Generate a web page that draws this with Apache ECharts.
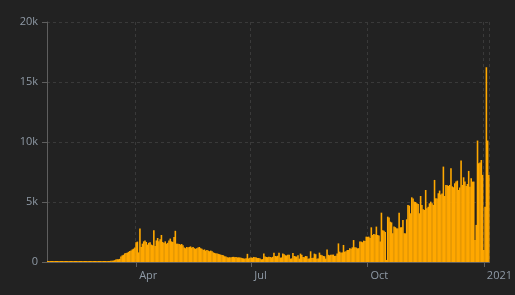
<!DOCTYPE html>
<html>
<head>
<meta charset="utf-8">
<script src="https://cdn.jsdelivr.net/npm/echarts@6/dist/echarts.min.js"></script>
<style>
html,body{margin:0;padding:0;background:#222222;}
#chart{width:515px;height:295px;}
</style>
</head>
<body>
<div id="chart"></div>
<script>
// Daily values, one array per month (2020-01-22 .. 2021-01-05)
var jan2020 = [0,0,0,1,0,0,1,0,0,1];
var feb2020 = [0,0,0,0,1,0,0,0,0,0,1,0,0,0,0,0,0,0,1,0,1,0,0,0,1,2,1,3,3];
var mar2020 = [3,4,8,6,10,12,9,15,20,25,30,100,110,120,150,200,220,230,260,450,550,600,720,750,780,850,920,950,1050,1110,1200];
var apr2020 = [1650,1700,800,2800,1250,1530,1720,1800,1670,1450,1600,1650,1450,1400,2640,1330,1800,2000,1720,1900,2250,1670,1580,1720,1530,1600,1800,1950,1720,1670];
var may2020 = [2080,2600,1530,1530,1500,1450,1500,1400,1200,1150,1250,1200,1250,1300,1200,1250,1150,1100,1150,1200,1250,1150,1100,1000,1050,950,1000,950,900,950,900];
var jun2020 = [800,760,720,700,680,650,600,580,560,480,460,400,380,400,370,420,430,400,410,380,390,380,360,320,300,280,310,680,300,350];
var jul2020 = [370,350,420,400,380,330,330,300,220,240,700,450,420,400,430,420,380,430,780,500,480,520,780,360,380,700,650,560,540,610,600];
var aug2020 = [280,300,750,500,470,450,560,280,700,600,420,400,500,480,280,300,890,330,350,700,650,280,300,780,600,560,500,480,280,1050,600];
var sep2020 = [560,610,600,620,500,520,700,1550,860,780,800,1420,860,900,1000,1000,1140,1100,1220,1830,1220,1200,1140,1150,1700,1700,1650,1780,1750,2110];
var oct2020 = [2100,2110,2000,2890,2250,2330,2300,2950,2250,2200,1700,4110,2650,2610,2500,170,3780,3700,3360,3300,2390,2950,2900,2810,2800,4110,2890,2900,3500,2400,2390];
var nov2020 = [3560,4750,4700,4060,5390,5300,5030,5000,4900,4840,4060,5500,4750,4400,4340,6000,4480,4600,4890,5030,4890,4750,6840,5310,5300,5730,5950,5620,5700,7950];
var dec2020 = [5500,6420,6400,6340,6420,7810,6300,6230,6560,6700,6780,6000,6200,8450,6420,7060,6700,6340,6500,7590,6280,6980,6700,6700,1830,3090,10120,8230,8300,8500,7260];
var jan2021 = [1000,4610,16230,10120,7260];

var startDate = '2020-01-22';
var tickDates = ['2020-04-01','2020-07-01','2020-10-01','2021-01-01'];
var tickLabels = ['Apr','Jul','Oct','2021'];
var yTicks = [0,5000,10000,15000,20000];
var yTickLabels = ['0','5k','10k','15k','20k'];

var values = [].concat(jan2020,feb2020,mar2020,apr2020,may2020,jun2020,jul2020,aug2020,sep2020,oct2020,nov2020,dec2020,jan2021);

function pad(n){return n<10?'0'+n:''+n;}
var categories = [];
var d0 = new Date(startDate + 'T00:00:00Z');
for (var i = 0; i < values.length; i++) {
  var d = new Date(d0.getTime() + i*86400000);
  categories.push(d.getUTCFullYear()+'-'+pad(d.getUTCMonth()+1)+'-'+pad(d.getUTCDate()));
}
function isTick(idx){ return tickDates.indexOf(categories[idx]) >= 0; }

var chart = echarts.init(document.getElementById('chart'), null, {renderer:'canvas'});
chart.setOption({
  backgroundColor: '#222222',
  animation: false,
  grid: {left: 47, right: 22, top: 22, bottom: 33},
  xAxis: {
    type: 'category',
    data: categories,
    boundaryGap: true,
    axisLine: {show: true, lineStyle: {color: '#5f5f5f', width: 1}},
    axisTick: {show: true, alignWithLabel: true, length: 5, interval: function(idx){return isTick(idx);}, lineStyle: {color: '#5f5f5f'}},
    axisLabel: {
      show: true,
      interval: function(idx){return isTick(idx);},
      align: 'left',
      padding: [0,0,0,3],
      margin: 8,
      color: '#8f9aa6',
      fontSize: 11,
      fontFamily: 'Open Sans',
      formatter: function(v){
        var k = tickDates.indexOf(v);
        return k < 0 ? '' : tickLabels[k];
      }
    },
    splitLine: {show: true, interval: function(idx){return isTick(idx);}, lineStyle: {color: '#3a3a3a', type: [3,3], width: 1}}
  },
  yAxis: {
    type: 'value',
    min: 0, max: 20000, interval: 5000,
    axisLine: {show: true, lineStyle: {color: '#5f5f5f', width: 1}},
    axisTick: {show: true, length: 5, lineStyle: {color: '#5f5f5f'}},
    axisLabel: {
      color: '#8f9aa6', fontSize: 11, fontFamily: 'Open Sans', margin: 9,
      formatter: function(v){ var k = yTicks.indexOf(v); return k >= 0 ? yTickLabels[k] : ''; }
    },
    splitLine: {show: true, lineStyle: {color: '#3a3a3a', type: [3,3], width: 1}}
  },
  series: [{
    type: 'bar',
    data: values,
    barWidth: 1.6,
    barMinHeight: 1,
    itemStyle: {color: '#ffa800', borderWidth: 0},
    emphasis: {disabled: true}
  }]
});
</script>
</body>
</html>
